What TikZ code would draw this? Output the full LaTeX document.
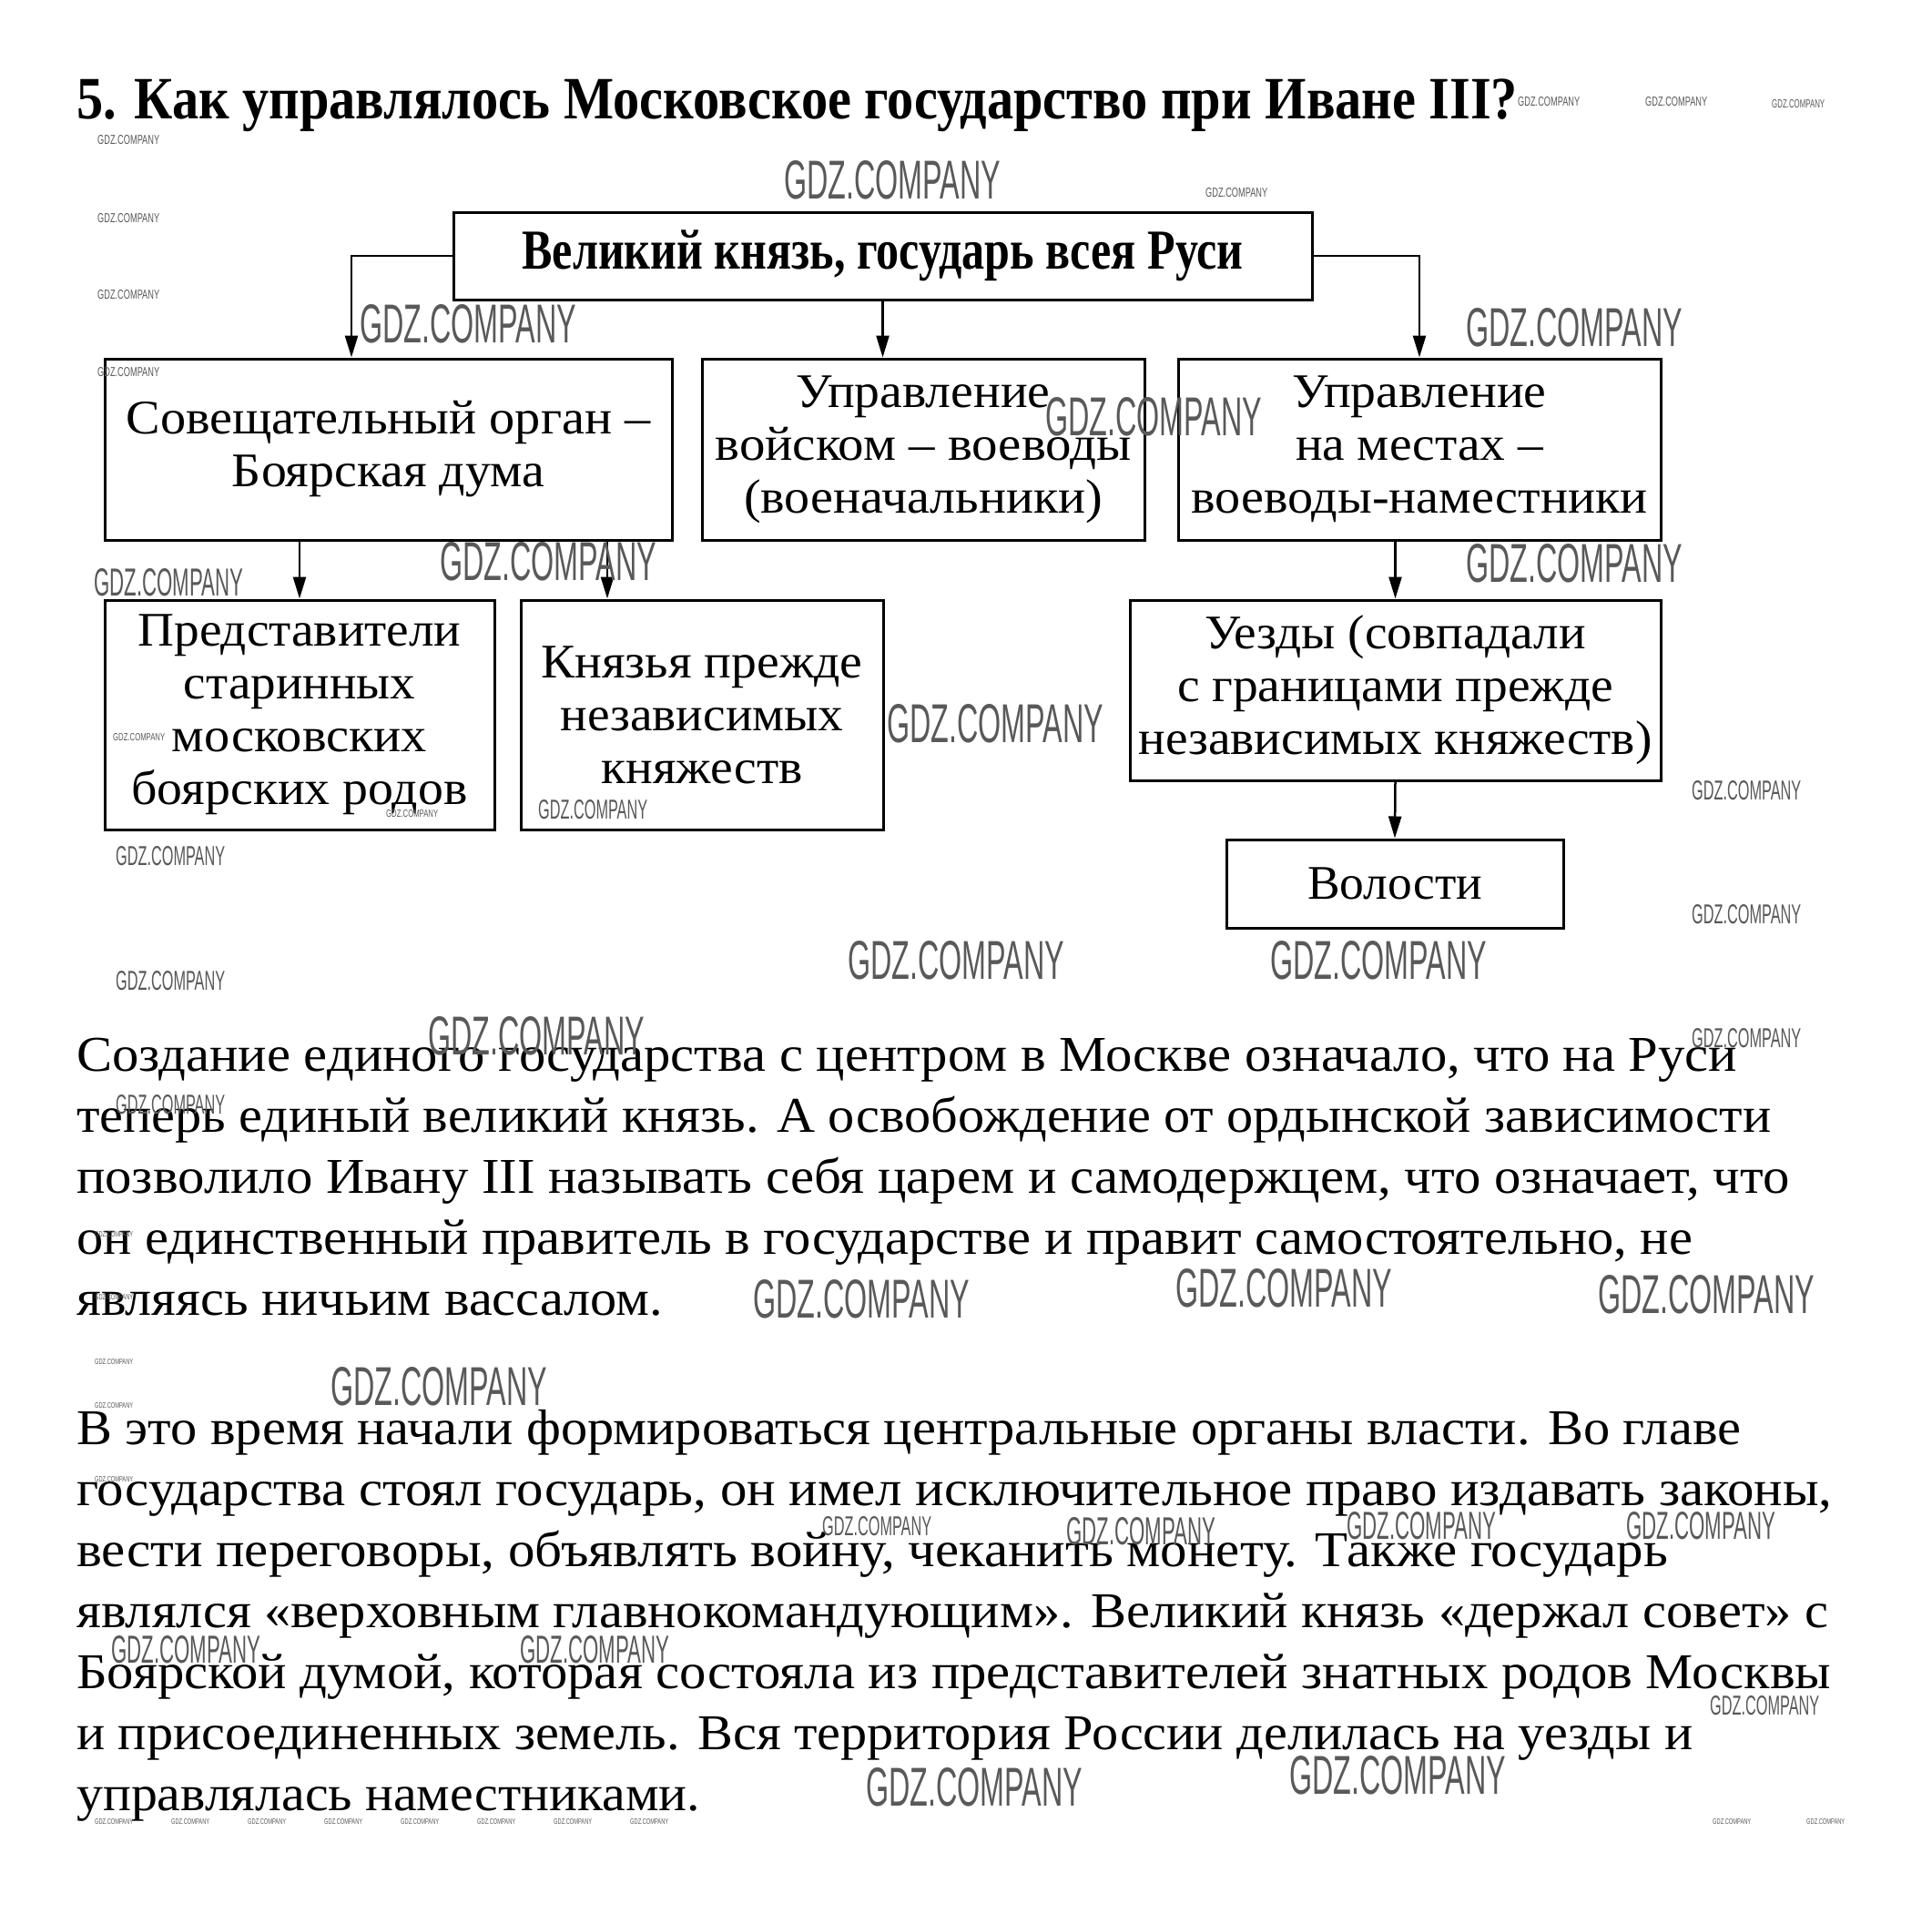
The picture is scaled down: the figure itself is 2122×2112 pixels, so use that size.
\documentclass[tikz,border=0pt]{standalone}
\usepackage{fontspec}
\setmainfont{Liberation Serif}
\newfontfamily\wmfont{Liberation Sans}
\usetikzlibrary{arrows.meta}
\newcommand\fitw[2]{\resizebox{#1pt}{\height}{#2}}
\newcommand\wmark[5]{\node[wm] (#1) at (#2,#3) {\resizebox{#4pt}{#5pt}{\wmfont GDZ.COMPANY}};}
\tikzset{
  box/.style={draw, line width=3pt, inner sep=0pt, align=center, font=\fontsize{53}{58}\selectfont},
  arr/.style={line width=2.5pt, -{Triangle[length=24pt,width=14pt]}},
  body/.style={anchor=base west, inner sep=0pt, font=\fontsize{55}{55}\selectfont},
  wm/.style={anchor=base west, inner sep=0pt, text=black!65},
}
\begin{document}
\begin{tikzpicture}[x=1pt,y=-1pt]
\useasboundingbox (0,0) rectangle (2122,2112);
\fill[white] (0,0) rectangle (2122,2112);

% title
\node[anchor=base west, inner sep=0pt, font=\bfseries\fontsize{66}{66}\selectfont] (title) at (84,130)
  {\fitw{1583}{5. Как управлялось Московское государство при Иване III?}};

% boxes
\node[box, font=\bfseries\fontsize{62}{60}\selectfont, minimum width=943pt, minimum height=96pt] (top) at (969.5,281)
  {\fitw{792}{Великий князь, государь всея Руси}};
\node[box, minimum width=623pt, minimum height=199pt] (b1) at (426.5,493.5)
  {\fitw{576}{Совещательный орган –}\\ \fitw{343}{Боярская дума}};
\node[box, minimum width=486pt, minimum height=199pt] (b2) at (1014,493.5)
  {\fitw{279}{Управление}\\ \fitw{457}{войском – воеводы}\\ \fitw{394}{(военачальники)}};
\node[box, minimum width=530pt, minimum height=199pt] (b3) at (1559,493.5)
  {\fitw{279}{Управление}\\ \fitw{272}{на местах –}\\ \fitw{501}{воеводы-наместники}};
\node[box, minimum width=428pt, minimum height=252pt] (b4) at (329,785)
  {\fitw{355}{Представители}\\ \fitw{254}{старинных}\\ \fitw{280}{московских}\\ \fitw{369}{боярских родов}};
\node[box, minimum width=398pt, minimum height=252pt] (b5) at (771,785)
  {\fitw{353}{Князья прежде}\\ \fitw{311}{независимых}\\ \fitw{221}{княжеств}};
\node[box, minimum width=583pt, minimum height=198pt] (b6) at (1532.5,758)
  {\fitw{419}{Уезды (совпадали}\\ \fitw{479}{с границами прежде}\\ \fitw{564}{независимых княжеств)}};
\node[box, minimum width=370pt, minimum height=97pt] (b7) at (1532,970.5)
  {\fitw{192}{Волости}};

% connectors
\coordinate (b1in) at ([xshift=-40.5pt]b1.north);
\coordinate (b5in) at ([xshift=-104pt]b5.north);
\draw[arr] (top.west) -| (b1in);
\draw[arr] (top.south) -- (top.south |- b2.north);
\draw[arr] (top.east) -| (b3.north);
\draw[arr] (b4.north |- b1.south) -- (b4.north);
\draw[arr] (b5in |- b1.south) -- (b5in);
\draw[arr] (b6.north |- b3.south) -- (b6.north);
\draw[arr] (b6.south) -- (b7.north);

% paragraph 1
\node[body] (p1a) at (84,1176) {\fitw{1824}{Создание единого государства с центром в Москве означало, что на Руси}};
\node[body] (p1b) at (84,1243) {\fitw{1861}{теперь единый великий князь. А освобождение от ордынской зависимости}};
\node[body] (p1c) at (84,1310) {\fitw{1881}{позволило Ивану III называть себя царем и самодержцем, что означает, что}};
\node[body] (p1d) at (84,1377) {\fitw{1775}{он единственный правитель в государстве и правит самостоятельно, не}};
\node[body] (p1e) at (84,1444) {\fitw{644}{являясь ничьим вассалом.}};

% paragraph 2
\node[body] (p2a) at (84,1586) {\fitw{1828}{В это время начали формироваться центральные органы власти. Во главе}};
\node[body] (p2b) at (84,1653) {\fitw{1928}{государства стоял государь, он имел исключительное право издавать законы,}};
\node[body] (p2c) at (84,1720) {\fitw{1748}{вести переговоры, объявлять войну, чеканить монету. Также государь}};
\node[body] (p2d) at (84,1787) {\fitw{1924}{являлся «верховным главнокомандующим». Великий князь «держал совет» с}};
\node[body] (p2e) at (84,1854) {\fitw{1927}{Боярской думой, которая состояла из представителей знатных родов Москвы}};
\node[body] (p2f) at (84,1921) {\fitw{1775}{и присоединенных земель. Вся территория России делилась на уезды и}};
\node[body] (p2g) at (84,1988) {\fitw{685}{управлялась наместниками.}};

% watermarks: large
\wmark{wA}{861}{218}{238}{42}
\wmark{wB}{395}{376}{238}{42}
\wmark{wC}{1610}{380}{238}{42}
\wmark{wD}{1148}{478}{238}{42}
\wmark{wE}{483}{637}{238}{42}
\wmark{wF}{1610}{639}{238}{42}
\wmark{wH}{974}{815}{238}{42}
\wmark{wI}{931}{1075}{238}{42}
\wmark{wJ}{1395}{1075}{238}{42}
\wmark{wK}{470}{1158}{238}{42}
\wmark{wL}{827}{1447}{238}{42}
\wmark{wM}{1291}{1435}{238}{42}
\wmark{wN}{1755}{1442}{238}{42}
\wmark{wO}{363}{1543}{238}{42}
\wmark{wP}{951}{1983}{238}{42}
\wmark{wQ}{1416}{1970}{238}{42}
% medium-large
\wmark{wG}{103}{654}{164}{30}
\wmark{wR}{1171}{1696}{164}{30}
\wmark{wS}{1479}{1690}{164}{30}
\wmark{wT}{1786}{1690}{164}{30}
\wmark{wU}{122}{1826}{164}{30}
\wmark{wV}{571}{1826}{164}{30}
% medium
\wmark{m1}{1858}{878}{120}{21}
\wmark{m2}{1858}{1014}{120}{21}
\wmark{m3}{127}{950}{120}{21}
\wmark{m4}{127}{1087}{120}{21}
\wmark{m5}{1858}{1150}{120}{21}
\wmark{m6}{127}{1223}{120}{21}
\wmark{m7}{591}{899}{120}{21}
\wmark{m8}{903}{1686}{120}{21}
\wmark{m9}{1878}{1883}{120}{21}
% small
\wmark{s1}{107}{158}{68}{10}
\wmark{s2}{107}{244}{68}{10}
\wmark{s3}{107}{328}{68}{10}
\wmark{s4}{107}{413}{68}{10}
\wmark{s5}{1667}{116}{68}{10}
\wmark{s6}{1807}{116}{68}{10}
\wmark{s7}{1946}{118}{58}{9}
\wmark{s8}{1324}{216}{68}{10}
% tiny
\wmark{t1}{124}{813}{57}{8}
\wmark{t2}{424}{897}{57}{8}
\wmark{t3}{104}{1358}{42}{6}
\wmark{t4}{104}{1427}{42}{6}
\wmark{t5}{104}{1498}{42}{6}
\wmark{t6}{104}{1546}{42}{6}
\wmark{t7}{104}{1627}{42}{6}
\wmark{u1}{104}{2003}{42}{6}
\wmark{u2}{188}{2003}{42}{6}
\wmark{u3}{272}{2003}{42}{6}
\wmark{u4}{356}{2003}{42}{6}
\wmark{u5}{440}{2003}{42}{6}
\wmark{u6}{524}{2003}{42}{6}
\wmark{u7}{608}{2003}{42}{6}
\wmark{u8}{692}{2003}{42}{6}
\wmark{u9}{1881}{2003}{42}{6}
\wmark{u10}{1984}{2003}{42}{6}
\end{tikzpicture}
\end{document}
